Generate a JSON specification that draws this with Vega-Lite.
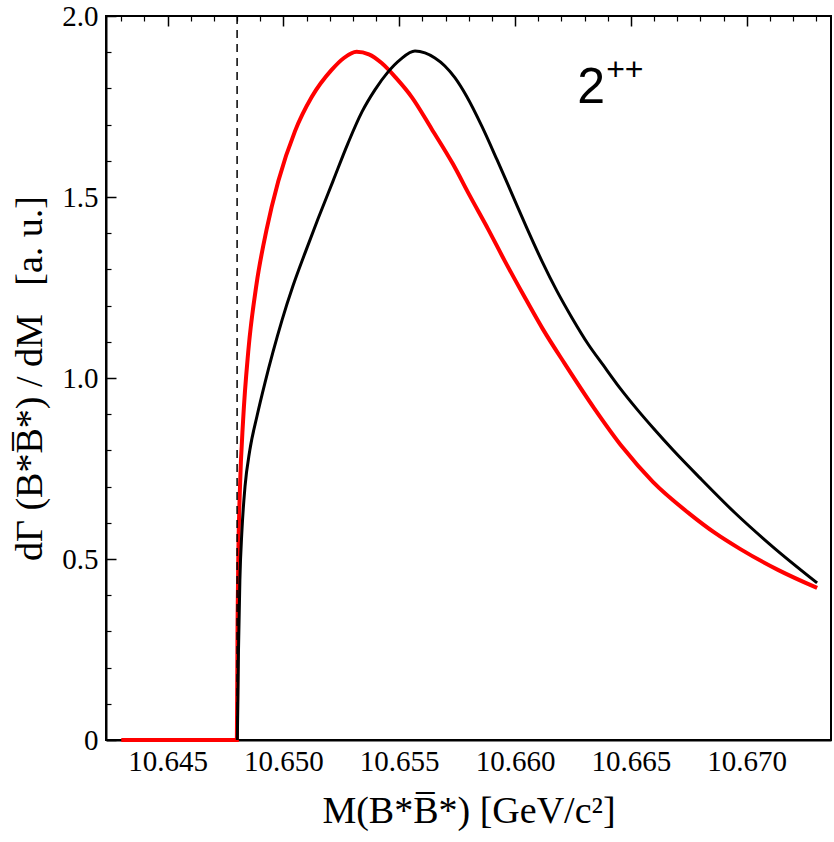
{
  "$schema": "https://vega.github.io/schema/vega-lite/v6.json",
  "width": 725,
  "height": 724,
  "autosize": {"type": "none"},
  "padding": {"left": 106, "top": 16, "right": 3, "bottom": 102},
  "background": "white",
  "config": {"view": {"stroke": "black", "strokeWidth": 2}, "font": "Liberation Serif"},
  "resolve": {"axis": {"x": "independent", "y": "independent"}},
  "datasets": {
    "curves": [
      {"series": "red", "M": 10.643, "rate": 0},
      {"series": "red", "M": 10.64799, "rate": 0},
      {"series": "red", "M": 10.64802, "rate": 0.331},
      {"series": "red", "M": 10.64806, "rate": 0.539},
      {"series": "red", "M": 10.64812, "rate": 0.691},
      {"series": "red", "M": 10.64826, "rate": 0.884},
      {"series": "red", "M": 10.64848, "rate": 1.072},
      {"series": "red", "M": 10.64884, "rate": 1.26},
      {"series": "red", "M": 10.64927, "rate": 1.409},
      {"series": "red", "M": 10.64978, "rate": 1.544},
      {"series": "red", "M": 10.6505, "rate": 1.682},
      {"series": "red", "M": 10.65122, "rate": 1.776},
      {"series": "red", "M": 10.65208, "rate": 1.851},
      {"series": "red", "M": 10.65261, "rate": 1.884},
      {"series": "red", "M": 10.65316, "rate": 1.901},
      {"series": "red", "M": 10.65369, "rate": 1.894},
      {"series": "red", "M": 10.65424, "rate": 1.87},
      {"series": "red", "M": 10.65486, "rate": 1.829},
      {"series": "red", "M": 10.65554, "rate": 1.776},
      {"series": "red", "M": 10.6564, "rate": 1.688},
      {"series": "red", "M": 10.65732, "rate": 1.591},
      {"series": "red", "M": 10.65805, "rate": 1.503},
      {"series": "red", "M": 10.65883, "rate": 1.412},
      {"series": "red", "M": 10.65956, "rate": 1.323},
      {"series": "red", "M": 10.66034, "rate": 1.232},
      {"series": "red", "M": 10.6612, "rate": 1.135},
      {"series": "red", "M": 10.66215, "rate": 1.039},
      {"series": "red", "M": 10.66341, "rate": 0.917},
      {"series": "red", "M": 10.66466, "rate": 0.807},
      {"series": "red", "M": 10.66595, "rate": 0.713},
      {"series": "red", "M": 10.66755, "rate": 0.624},
      {"series": "red", "M": 10.66863, "rate": 0.572},
      {"series": "red", "M": 10.66971, "rate": 0.528},
      {"series": "red", "M": 10.67135, "rate": 0.47},
      {"series": "red", "M": 10.67304, "rate": 0.42},
      {"series": "black", "M": 10.64801, "rate": 0},
      {"series": "black", "M": 10.64806, "rate": 0.249},
      {"series": "black", "M": 10.64812, "rate": 0.442},
      {"series": "black", "M": 10.64821, "rate": 0.58},
      {"series": "black", "M": 10.64834, "rate": 0.699},
      {"series": "black", "M": 10.64855, "rate": 0.801},
      {"series": "black", "M": 10.64886, "rate": 0.895},
      {"series": "black", "M": 10.6492, "rate": 0.986},
      {"series": "black", "M": 10.64955, "rate": 1.072},
      {"series": "black", "M": 10.64994, "rate": 1.16},
      {"series": "black", "M": 10.65041, "rate": 1.254},
      {"series": "black", "M": 10.65093, "rate": 1.345},
      {"series": "black", "M": 10.65149, "rate": 1.439},
      {"series": "black", "M": 10.65214, "rate": 1.544},
      {"series": "black", "M": 10.65279, "rate": 1.649},
      {"series": "black", "M": 10.65339, "rate": 1.735},
      {"series": "black", "M": 10.65395, "rate": 1.796},
      {"series": "black", "M": 10.65451, "rate": 1.845},
      {"series": "black", "M": 10.65507, "rate": 1.881},
      {"series": "black", "M": 10.65568, "rate": 1.903},
      {"series": "black", "M": 10.65611, "rate": 1.898},
      {"series": "black", "M": 10.65654, "rate": 1.884},
      {"series": "black", "M": 10.65697, "rate": 1.862},
      {"series": "black", "M": 10.65741, "rate": 1.829},
      {"series": "black", "M": 10.65792, "rate": 1.777},
      {"series": "black", "M": 10.65857, "rate": 1.695},
      {"series": "black", "M": 10.65922, "rate": 1.603},
      {"series": "black", "M": 10.65987, "rate": 1.508},
      {"series": "black", "M": 10.66051, "rate": 1.414},
      {"series": "black", "M": 10.66116, "rate": 1.323},
      {"series": "black", "M": 10.66181, "rate": 1.24},
      {"series": "black", "M": 10.66246, "rate": 1.166},
      {"series": "black", "M": 10.66315, "rate": 1.094},
      {"series": "black", "M": 10.6638, "rate": 1.036},
      {"series": "black", "M": 10.66453, "rate": 0.972},
      {"series": "black", "M": 10.66526, "rate": 0.914},
      {"series": "black", "M": 10.666, "rate": 0.859},
      {"series": "black", "M": 10.66682, "rate": 0.801},
      {"series": "black", "M": 10.66798, "rate": 0.724},
      {"series": "black", "M": 10.6695, "rate": 0.627},
      {"series": "black", "M": 10.67114, "rate": 0.533},
      {"series": "black", "M": 10.67304, "rate": 0.434}
    ],
    "threshold": [{"M": 10.648}],
    "labels": [
      {"M": 10.66328, "rate": 1.80, "text": "2", "size": "big"},
      {"M": 10.66474, "rate": 1.85, "text": "++", "size": "small"}
    ]
  },
  "layer": [
    {
      "data": {"name": "curves"},
      "transform": [{"filter": "datum.series === 'red'"}],
      "mark": {"type": "line", "color": "#ff0000", "strokeWidth": 4, "interpolate": "monotone"},
      "encoding": {
        "x": {
          "field": "M", "type": "quantitative",
          "scale": {"domain": [10.64234, 10.67364], "nice": false, "zero": false},
          "axis": {
            "orient": "bottom",
            "values": [10.645, 10.65, 10.655, 10.66, 10.665, 10.67],
            "format": ".3f",
            "ticks": false,
            "labelPadding": 7,
            "grid": true, "gridColor": "black", "gridWidth": 1.5, "gridOpacity": 1, "gridDash": [10, 2000],
            "domainColor": "black", "domainWidth": 2,
            "labelFont": "Liberation Serif", "labelFontSize": 29, "labelColor": "black",
            "labelFlush": false, "labelOverlap": false,
            "title": "M(B*B̅*) [GeV/c²]",
            "titleFont": "Liberation Serif", "titleFontSize": 38, "titleFontWeight": "normal", "titleColor": "black",
            "titlePadding": 16
          }
        },
        "y": {
          "field": "rate", "type": "quantitative",
          "scale": {"domain": [0, 2], "nice": false, "zero": false},
          "axis": {
            "orient": "left",
            "values": [0, 0.5, 1.0, 1.5, 2.0],
            "labelExpr": "datum.value == 0 ? '0' : format(datum.value, '.1f')",
            "ticks": false,
            "labelPadding": 8,
            "grid": true, "gridColor": "black", "gridWidth": 1.5, "gridOpacity": 1, "gridDash": [10, 2000],
            "domainColor": "black", "domainWidth": 2,
            "labelFont": "Liberation Serif", "labelFontSize": 29, "labelColor": "black",
            "labelFlush": false, "labelOverlap": false,
            "title": "dΓ (B*B̅*) / dM\u00a0\u00a0\u00a0[a. u.]",
            "titleFont": "Liberation Serif", "titleFontSize": 38, "titleFontWeight": "normal", "titleColor": "black",
            "titlePadding": 12
          }
        }
      }
    },
    {
      "data": {"name": "curves"},
      "transform": [{"filter": "datum.series === 'black'"}],
      "mark": {"type": "line", "color": "#000000", "strokeWidth": 3, "interpolate": "monotone"},
      "encoding": {
        "x": {
          "field": "M", "type": "quantitative",
          "axis": {
            "orient": "bottom",
            "values": [10.643, 10.644, 10.646, 10.647, 10.648, 10.649, 10.651, 10.652, 10.653, 10.654, 10.656, 10.657, 10.658, 10.659, 10.661, 10.662, 10.663, 10.664, 10.666, 10.667, 10.668, 10.669, 10.671, 10.672, 10.673],
            "labels": false, "domain": false, "ticks": false, "title": null,
            "grid": true, "gridColor": "black", "gridWidth": 1.2, "gridOpacity": 1, "gridDash": [5, 2000]
          }
        },
        "y": {
          "field": "rate", "type": "quantitative",
          "axis": {
            "orient": "left",
            "values": [0.1, 0.2, 0.3, 0.4, 0.6, 0.7, 0.8, 0.9, 1.1, 1.2, 1.3, 1.4, 1.6, 1.7, 1.8, 1.9],
            "labels": false, "domain": false, "ticks": false, "title": null,
            "grid": true, "gridColor": "black", "gridWidth": 1.2, "gridOpacity": 1, "gridDash": [5, 2000]
          }
        }
      }
    },
    {
      "data": {"name": "threshold"},
      "mark": {"type": "rule", "color": "black", "strokeWidth": 1.5, "strokeDash": [8, 6]},
      "encoding": {
        "x": {"field": "M", "type": "quantitative", "axis": null}
      }
    },
    {
      "data": {"name": "labels"},
      "transform": [{"filter": "datum.size === 'big'"}],
      "mark": {"type": "text", "font": "Liberation Sans", "fontSize": 50, "color": "black", "align": "center", "baseline": "middle"},
      "encoding": {
        "x": {"field": "M", "type": "quantitative", "axis": null},
        "y": {"field": "rate", "type": "quantitative", "axis": null},
        "text": {"field": "text"}
      }
    },
    {
      "data": {"name": "labels"},
      "transform": [{"filter": "datum.size === 'small'"}],
      "mark": {"type": "text", "font": "Liberation Sans", "fontSize": 32, "color": "black", "align": "center", "baseline": "middle"},
      "encoding": {
        "x": {"field": "M", "type": "quantitative", "axis": null},
        "y": {"field": "rate", "type": "quantitative", "axis": null},
        "text": {"field": "text"}
      }
    }
  ]
}
